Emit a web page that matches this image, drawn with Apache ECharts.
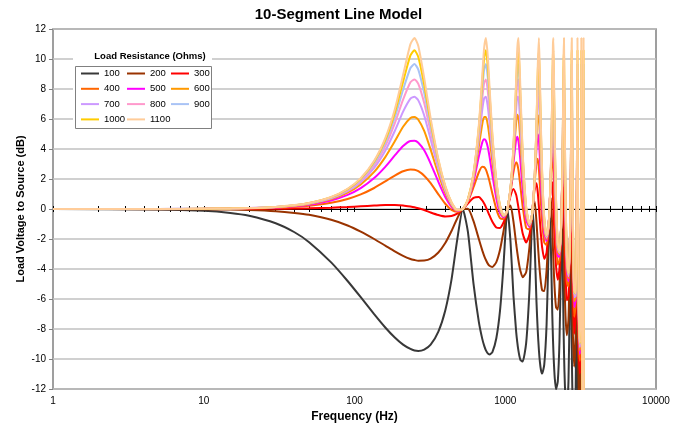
<!DOCTYPE html>
<html>
<head>
<meta charset="utf-8">
<script src="https://cdn.jsdelivr.net/npm/echarts/dist/echarts.min.js"></script>
<style>
  html, body { margin: 0; padding: 0; background: #fff; }
  #chart { width: 677px; height: 431px; }
</style>
</head>
<body>
<div id="chart"></div>
<script>
// Frequency samples (Hz) shared by all series
const freqHz = [
  1, 5, 10, 15, 20, 30, 40, 50, 70, 90, 110, 135, 160, 185, 210, 235, 250, 265, 290, 320, 360, 400, 440, 480, 523,
  565, 616, 668, 704, 724.5, 744.3, 765.5, 786, 821.7, 872.5, 923.1, 973.5, 1008.6, 1033.7,
  1083.5, 1133.1, 1182.4, 1202, 1222.1, 1241.1, 1260.6, 1304.3, 1376.5, 1447.9, 1490.4, 1518.6,
  1565.2, 1611.5, 1643.7, 1672.5, 1698.1, 1725.1, 1756.4, 1814.5, 1880.2, 1931.9, 1966.2,
  2008.4, 2050.2, 2070.9, 2085.6, 2103.5, 2132.2, 2172.4, 2231.2, 2289.8, 2335.8, 2365.3,
  2402.1, 2434.7, 2452.1, 2470.5, 2509.1, 2560.5, 2626.9, 2674.9, 2706.1,
  2736.7, 2754.7, 2763.8, 2775.4, 2809.8, 2865.9, 2931.3, 2963.7, 2980.4,
  2999.3, 3013.7, 3026.7, 3069.9, 3129, 3164.7, 3181.3,
  3189.3, 3196.4, 3204.8, 3239.9, 3275.5, 3303.8,
  3305.4, 3307.6, 3310.1, 3324.8
];

// Load voltage to source (dB) for each load resistance
const r100 = [
  0, -0.03, -0.12, -0.26, -0.45, -0.95, -1.55, -2.21, -3.56, -4.8, -5.88, -7.01, -7.9, -8.57, -9.04, -9.33, -9.43, -9.46, -9.37, -9.04, -8.17, -6.76, -4.71, -2.06, 0,
  -1.51, -4.99, -7.52, -8.66, -9.11, -9.43, -9.63, -9.7, -9.54, -8.62, -6.78, -3.77, -1.18, 0,
  -2.17, -5.77, -8.22, -8.89, -9.43, -9.8, -10.06, -10.17, -8.93, -5.38, -1.88, 0,
  -2.28, -6.21, -8.17, -9.43, -10.21, -10.73, -10.97, -10.38, -7.7, -3.27, 0,
  -2.61, -6.97, -8.53, -9.43, -10.32, -11.33, -12.01, -11.49, -8.78, -4.02, 0,
  -3.28, -7.74, -9.43, -10.83, -12.72, -13.51, -11.46, -6.21, 0,
  -4.46, -8.03, -9.43, -10.92, -13.89, -15.48, -12.19, -5.88, 0,
  -4.74, -9.43, -12.28, -17.31, -17.27, -10.57, 0,
  -4.15, -9.43, -13.5, -21.45, -22.03, 0,
  -2.6, -9.43, -14.26, -27.2
];
const r200 = [
  0, -0.01, -0.02, -0.04, -0.07, -0.15, -0.26, -0.39, -0.72, -1.1, -1.51, -2, -2.44, -2.82, -3.12, -3.33, -3.4, -3.45, -3.44, -3.31, -2.9, -2.27, -1.47, -0.63, 0,
  0.01, -0.81, -2, -2.76, -3.12, -3.4, -3.64, -3.78, -3.86, -3.54, -2.72, -1.49, -0.55, 0,
  0.23, -0.83, -2.35, -2.9, -3.4, -3.81, -4.13, -4.55, -4.21, -2.52, -0.98, 0,
  0.52, -0.87, -2.26, -3.4, -4.25, -4.92, -5.41, -5.47, -4.09, -1.8, 0,
  0.74, -1.26, -2.55, -3.4, -4.34, -5.52, -6.55, -6.72, -5.15, -2.39, 0,
  0.8, -1.83, -3.4, -4.87, -7.09, -8.41, -7.35, -3.87, 0,
  0.49, -2.07, -3.4, -4.95, -8.3, -10.51, -8.32, -3.84, 0,
  0.42, -3.4, -6.4, -12.08, -12.77, -7.35, 0,
  0.8, -3.4, -7.7, -16.39, -17.41, 0,
  1.43, -3.4, -8.5, -22.16
];
const r300 = [
  0, 0, 0, 0, 0.01, 0.02, 0.03, 0.05, 0.09, 0.13, 0.18, 0.23, 0.27, 0.27, 0.24, 0.17, 0.12, 0.05, -0.07, -0.23, -0.4, -0.5, -0.47, -0.31, 0,
  0.36, 0.74, 0.8, 0.57, 0.36, 0.12, -0.16, -0.43, -0.85, -1.23, -1.26, -0.9, -0.42, 0,
  0.87, 1.33, 0.93, 0.56, 0.12, -0.33, -0.77, -1.61, -2.24, -1.69, -0.79, 0,
  1.31, 1.71, 1.09, 0.12, -0.82, -1.72, -2.55, -3.33, -2.91, -1.46, 0,
  1.79, 1.78, 0.91, 0.12, -0.89, -2.33, -3.83, -4.71, -3.95, -2, 0,
  2.28, 1.5, 0.12, -1.46, -4.16, -6.09, -5.85, -3.25, 0,
  2.66, 1.35, 0.12, -1.52, -5.42, -8.32, -6.97, -3.33, 0,
  2.81, 0.12, -3.12, -9.61, -10.99, -6.36, 0,
  2.97, 0.12, -4.53, -14.11, -15.53, 0,
  2.88, 0.12, -5.38, -19.93
];
const r400 = [
  0, 0, 0.01, 0.02, 0.03, 0.08, 0.14, 0.21, 0.41, 0.67, 0.97, 1.4, 1.84, 2.23, 2.52, 2.64, 2.62, 2.52, 2.22, 1.72, 0.98, 0.35, -0.06, -0.19, 0,
  0.49, 1.45, 2.45, 2.81, 2.79, 2.62, 2.27, 1.85, 1.02, -0.01, -0.61, -0.67, -0.38, 0,
  1.12, 2.44, 3.11, 2.98, 2.62, 2.11, 1.51, 0.18, -1.27, -1.36, -0.72, 0,
  1.63, 3.17, 3.35, 2.62, 1.55, 0.36, -0.84, -2.24, -2.4, -1.34, 0,
  2.23, 3.69, 3.31, 2.62, 1.51, -0.26, -2.24, -3.71, -3.44, -1.86, 0,
  2.94, 3.76, 2.62, 0.88, -2.37, -4.86, -5.17, -3.01, 0,
  3.77, 3.7, 2.62, 0.85, -3.68, -7.19, -6.38, -3.14, 0,
  4.1, 2.62, -0.92, -8.27, -10.14, -5.95, 0,
  4.08, 2.62, -2.48, -12.91, -14.61, 0,
  3.53, 2.62, -3.39, -18.76
];
const r500 = [
  0, 0, 0.01, 0.03, 0.05, 0.1, 0.19, 0.29, 0.57, 0.94, 1.39, 2.06, 2.81, 3.57, 4.2, 4.54, 4.55, 4.42, 3.91, 3.03, 1.81, 0.8, 0.15, -0.13, 0,
  0.56, 1.82, 3.49, 4.44, 4.65, 4.55, 4.13, 3.51, 2.26, 0.7, -0.27, -0.56, -0.35, 0,
  1.24, 3.07, 4.66, 4.82, 4.55, 3.97, 3.19, 1.35, -0.74, -1.2, -0.69, 0,
  1.78, 4.05, 4.99, 4.55, 3.33, 1.82, 0.26, -1.63, -2.14, -1.28, 0,
  2.45, 4.97, 5.13, 4.55, 3.33, 1.18, -1.26, -3.16, -3.18, -1.79, 0,
  3.29, 5.4, 4.55, 2.63, -1.2, -4.15, -4.81, -2.9, 0,
  4.41, 5.47, 4.55, 2.63, -2.56, -6.55, -6.07, -3.04, 0,
  4.86, 4.55, 0.65, -7.46, -9.68, -5.75, 0,
  4.72, 4.55, -1.05, -12.22, -14.11, 0,
  3.86, 4.55, -2.02, -18.1
];
const r600 = [
  0, 0, 0.01, 0.03, 0.05, 0.12, 0.21, 0.33, 0.66, 1.09, 1.64, 2.47, 3.46, 4.51, 5.48, 6.07, 6.14, 5.95, 5.21, 3.96, 2.33, 1.07, 0.26, -0.1, 0,
  0.59, 2.04, 4.19, 5.67, 6.14, 6.14, 5.62, 4.79, 3.12, 1.14, -0.07, -0.5, -0.34, 0,
  1.31, 3.45, 5.82, 6.28, 6.14, 5.47, 4.48, 2.15, -0.41, -1.11, -0.67, 0,
  1.87, 4.61, 6.25, 6.14, 4.73, 2.88, 1, -1.25, -2, -1.25, 0,
  2.57, 5.86, 6.58, 6.14, 4.77, 2.23, -0.61, -2.82, -3.03, -1.75, 0,
  3.49, 6.64, 6.14, 4, -0.4, -3.7, -4.61, -2.84, 0,
  4.79, 6.84, 6.14, 4.02, -1.8, -6.15, -5.9, -2.99, 0,
  5.33, 6.14, 1.82, -6.96, -9.41, -5.63, 0,
  5.11, 6.14, -0.02, -11.79, -13.82, 0,
  4.06, 6.14, -1.05, -17.68
];
const r700 = [
  0, 0, 0.01, 0.03, 0.06, 0.13, 0.23, 0.36, 0.71, 1.19, 1.79, 2.74, 3.89, 5.2, 6.49, 7.36, 7.48, 7.24, 6.23, 4.64, 2.68, 1.24, 0.33, -0.08, 0,
  0.61, 2.17, 4.67, 6.63, 7.38, 7.48, 6.85, 5.79, 3.74, 1.43, 0.05, -0.46, -0.34, 0,
  1.35, 3.7, 6.71, 7.48, 7.48, 6.7, 5.49, 2.71, -0.21, -1.06, -0.66, 0,
  1.92, 5, 7.23, 7.48, 5.85, 3.67, 1.51, -1.01, -1.91, -1.23, 0,
  2.65, 6.51, 7.76, 7.48, 5.95, 3, -0.17, -2.61, -2.94, -1.73, 0,
  3.62, 7.61, 7.48, 5.09, 0.17, -3.41, -4.48, -2.8, 0,
  5.04, 7.95, 7.48, 5.15, -1.27, -5.89, -5.79, -2.96, 0,
  5.65, 7.48, 2.72, -6.62, -9.23, -5.56, 0,
  5.36, 7.48, 0.75, -11.51, -13.63, 0,
  4.18, 7.48, -0.34, -17.42
];
const r800 = [
  0, 0, 0.02, 0.03, 0.06, 0.13, 0.24, 0.38, 0.75, 1.25, 1.9, 2.92, 4.2, 5.71, 7.29, 8.45, 8.64, 8.34, 7.06, 5.14, 2.93, 1.36, 0.38, -0.07, 0,
  0.62, 2.26, 5.01, 7.39, 8.41, 8.64, 7.88, 6.59, 4.19, 1.62, 0.13, -0.44, -0.33, 0,
  1.37, 3.87, 7.4, 8.49, 8.64, 7.75, 6.3, 3.12, -0.07, -1.02, -0.66, 0,
  1.96, 5.26, 8.01, 8.64, 6.78, 4.27, 1.88, -0.84, -1.85, -1.21, 0,
  2.7, 6.98, 8.75, 8.64, 6.93, 3.6, 0.15, -2.46, -2.88, -1.71, 0,
  3.7, 8.38, 8.64, 5.99, 0.58, -3.21, -4.4, -2.77, 0,
  5.21, 8.86, 8.64, 6.08, -0.89, -5.72, -5.72, -2.94, 0,
  5.86, 8.64, 3.42, -6.39, -9.12, -5.52, 0,
  5.53, 8.64, 1.33, -11.31, -13.5, 0,
  4.26, 8.64, 0.19, -17.23
];
const r900 = [
  0, 0, 0.02, 0.03, 0.06, 0.14, 0.25, 0.39, 0.77, 1.29, 1.97, 3.05, 4.43, 6.1, 7.95, 9.4, 9.66, 9.29, 7.73, 5.52, 3.1, 1.44, 0.41, -0.06, 0,
  0.63, 2.33, 5.26, 8, 9.3, 9.66, 8.77, 7.24, 4.53, 1.76, 0.19, -0.42, -0.33, 0,
  1.39, 3.99, 7.95, 9.35, 9.66, 8.64, 6.96, 3.42, 0.03, -0.99, -0.65, 0,
  1.98, 5.46, 8.63, 9.66, 7.56, 4.74, 2.15, -0.72, -1.8, -1.21, 0,
  2.73, 7.34, 9.58, 9.66, 7.76, 4.05, 0.38, -2.36, -2.84, -1.7, 0,
  3.76, 9, 9.66, 6.73, 0.88, -3.07, -4.34, -2.75, 0,
  5.34, 9.61, 9.66, 6.86, -0.6, -5.59, -5.67, -2.93, 0,
  6.02, 9.66, 3.98, -6.22, -9.04, -5.48, 0,
  5.65, 9.66, 1.77, -11.18, -13.41, 0,
  4.32, 9.66, 0.6, -17.1
];
const r1000 = [
  0, 0, 0.02, 0.04, 0.06, 0.14, 0.25, 0.4, 0.79, 1.33, 2.02, 3.15, 4.6, 6.41, 8.49, 10.24, 10.58, 10.13, 8.28, 5.81, 3.23, 1.49, 0.44, -0.06, 0,
  0.64, 2.37, 5.45, 8.49, 10.08, 10.58, 9.54, 7.77, 4.79, 1.87, 0.23, -0.41, -0.33, 0,
  1.4, 4.08, 8.38, 10.08, 10.58, 9.41, 7.5, 3.66, 0.1, -0.98, -0.65, 0,
  2, 5.6, 9.15, 10.58, 8.21, 5.11, 2.36, -0.64, -1.77, -1.2, 0,
  2.76, 7.62, 10.29, 10.58, 8.46, 4.42, 0.55, -2.29, -2.81, -1.7, 0,
  3.8, 9.51, 10.58, 7.35, 1.11, -2.96, -4.29, -2.74, 0,
  5.43, 10.25, 10.58, 7.52, -0.39, -5.5, -5.63, -2.92, 0,
  6.13, 10.58, 4.43, -6.1, -8.98, -5.46, 0,
  5.74, 10.58, 2.12, -11.07, -13.34, 0,
  4.36, 10.58, 0.92, -17.01
];
const r1100 = [
  0, 0, 0.02, 0.04, 0.06, 0.14, 0.26, 0.4, 0.8, 1.35, 2.06, 3.22, 4.73, 6.64, 8.93, 10.99, 11.4, 10.87, 8.74, 6.04, 3.33, 1.54, 0.45, -0.05, 0,
  0.64, 2.41, 5.6, 8.9, 10.75, 11.4, 10.21, 8.21, 5, 1.95, 0.26, -0.4, -0.32, 0,
  1.41, 4.14, 8.74, 10.72, 11.4, 10.09, 7.94, 3.84, 0.15, -0.96, -0.64, 0,
  2.01, 5.71, 9.57, 11.4, 8.77, 5.4, 2.52, -0.57, -1.75, -1.19, 0,
  2.77, 7.83, 10.91, 11.4, 9.07, 4.7, 0.68, -2.23, -2.79, -1.69, 0,
  3.83, 9.93, 11.4, 7.87, 1.29, -2.89, -4.26, -2.73, 0,
  5.49, 10.78, 11.4, 8.07, -0.22, -5.43, -5.61, -2.91, 0,
  6.22, 11.4, 4.79, -6, -8.94, -5.44, 0,
  5.81, 11.4, 2.4, -11, -13.29, 0,
  4.39, 11.4, 1.17, -16.94
];

const seriesNames = ['100', '200', '300', '400', '500', '600', '700', '800', '900', '1000', '1100'];
const seriesValues = [r100, r200, r300, r400, r500, r600, r700, r800, r900, r1000, r1100];
const xLabelValues = [1, 10, 100, 1000, 10000];
const yMin = -12, yMax = 12, yStep = 2;

// styling
const lineColors = ['#383838', '#993300', '#ff0000', '#ff6600', '#ff00ff', '#ff9900',
                    '#cc99ff', '#ff99cc', '#a9c3f5', '#ffcc00', '#ffcc99'];
const FONT = '"Liberation Sans", Arial, Helvetica, sans-serif';

// log-axis tick positions (1..9 per decade)
const xTickValues = [];
for (let d = 1; d < 10000; d *= 10) {
  for (let m = 1; m < 10; m++) xTickValues.push(m * d);
}
xTickValues.push(10000);

const chart = echarts.init(document.getElementById('chart'), null, { renderer: 'canvas' });

const series = seriesNames.map((name, k) => ({
  name: name,
  type: 'line',
  xAxisIndex: 0,
  yAxisIndex: 0,
  data: freqHz.map((f, i) => [f, seriesValues[k][i]]),
  showSymbol: false,
  symbol: 'none',
  smooth: 0.2,
  clip: true,
  color: lineColors[k],
  lineStyle: { width: 2, color: lineColors[k] },
  z: 2 + k * 0.01
}));

const legendCommon = {
  orient: 'vertical',
  icon: 'rect',
  itemWidth: 18,
  itemHeight: 2,
  itemGap: 3.3,
  padding: 0,
  top: 67.5,
  selectedMode: false,
  z: 120,
  textStyle: { fontSize: 9.5, color: '#000', fontFamily: FONT, lineHeight: 12 }
};

const logAxisBase = { type: 'log', logBase: 10, min: 1, max: 10000 };

const option = {
  animation: false,
  backgroundColor: '#ffffff',
  textStyle: { fontFamily: FONT },
  title: {
    text: '10-Segment Line Model',
    left: 'center',
    top: 2,
    textStyle: { fontSize: 15, fontWeight: 'bold', color: '#000', fontFamily: FONT }
  },
  grid: [
    { left: 53, top: 29, width: 603, height: 360, show: true, borderColor: '#808080', borderWidth: 1.5, backgroundColor: '#fff' },
    { left: 53, top: 29, width: 603, height: 360, show: false }
  ],
  xAxis: [
    Object.assign({}, logAxisBase, {
      gridIndex: 0,
      position: 'bottom',
      axisLine: { show: false, onZero: false },
      axisTick: { show: false },
      splitLine: { show: false },
      axisLabel: {
        customValues: xLabelValues,
        formatter: v => String(Math.round(v)),
        fontSize: 10, color: '#000', margin: 7, fontFamily: FONT
      },
      name: 'Frequency (Hz)',
      nameLocation: 'middle',
      nameGap: 22,
      nameTextStyle: { fontSize: 12, fontWeight: 'bold', color: '#000', fontFamily: FONT }
    }),
    Object.assign({}, logAxisBase, {
      gridIndex: 0,
      position: 'top',
      axisLine: { show: true, onZero: true, lineStyle: { color: '#000', width: 1 } },
      axisTick: { show: true, length: 3, customValues: xTickValues, lineStyle: { color: '#000', width: 1 } },
      axisLabel: { show: false },
      splitLine: { show: false }
    }),
    Object.assign({}, logAxisBase, {
      gridIndex: 1,
      position: 'bottom',
      axisLine: { show: false, onZero: true },
      axisTick: { show: true, length: 3, customValues: xTickValues, lineStyle: { color: '#000', width: 1 } },
      axisLabel: { show: false },
      splitLine: { show: false }
    })
  ],
  yAxis: [
    {
      type: 'value', gridIndex: 0, min: yMin, max: yMax, interval: yStep,
      axisLine: { show: false },
      axisTick: { show: true, length: 4, lineStyle: { color: '#808080' } },
      axisLabel: { fontSize: 10, color: '#000', margin: 7, fontFamily: FONT },
      splitLine: { show: true, lineStyle: { color: '#c0c0c0', width: 1.5 } },
      name: 'Load Voltage to Source (dB)',
      nameLocation: 'middle',
      nameGap: 27,
      nameMoveOverlap: false,
      nameTextStyle: { fontSize: 11, fontWeight: 'bold', color: '#000', fontFamily: FONT }
    },
    {
      type: 'value', gridIndex: 1, min: yMin, max: yMax, interval: yStep,
      axisLine: { show: false }, axisTick: { show: false }, axisLabel: { show: false }, splitLine: { show: false }
    }
  ],
  legend: [
    Object.assign({}, legendCommon, { left: 81, data: ['100', '400', '700', '1000'] }),
    Object.assign({}, legendCommon, { left: 127, data: ['200', '500', '800', '1100'] }),
    Object.assign({}, legendCommon, { left: 171, data: ['300', '600', '900'] })
  ],
  graphic: [
    { type: 'rect', silent: true, z: 100, shape: { x: 73, y: 50, width: 139, height: 79 }, style: { fill: '#ffffff' } },
    { type: 'rect', silent: true, z: 101, shape: { x: 75.5, y: 66.5, width: 136, height: 62 }, style: { fill: '#ffffff', stroke: '#808080', lineWidth: 1 } },
    { type: 'text', silent: true, z: 102, x: 150, y: 56,
      style: { text: 'Load Resistance (Ohms)', fontSize: 9.5, fontWeight: 'bold', fontFamily: FONT, fill: '#000',
               align: 'center', verticalAlign: 'middle', textAlign: 'center', textVerticalAlign: 'middle' } }
  ],
  series: series
};

chart.setOption(option);
</script>
</body>
</html>
